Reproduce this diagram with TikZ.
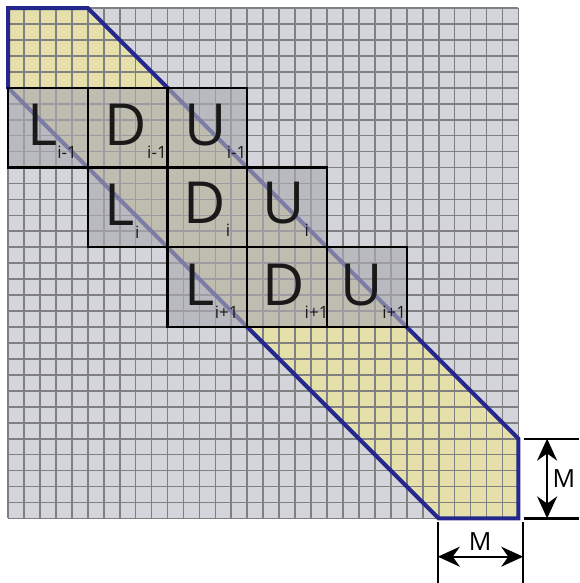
\documentclass[tikz,border=0pt]{standalone}
\usepackage{fontspec}
\setmainfont{Open Sans}
\usetikzlibrary{arrows.meta, positioning}

\definecolor{cellgray}{RGB}{212,213,218}
\definecolor{gridline}{RGB}{128,128,130}
\definecolor{bandyellow}{RGB}{229,223,170}
\definecolor{bandblue}{RGB}{36,40,140}
\definecolor{blockgray}{RGB}{172,172,178}

% letter with its index below right
\newcommand{\blk}[2]{{\fontsize{58}{58}\selectfont #1}\raisebox{-13pt}{\fontsize{17}{17}\selectfont #2}}

\tikzset{
  blockbox/.style={draw=black, line width=2.2pt, fill=blockgray, fill opacity=0.65,
    minimum size=79.75pt, inner sep=0pt, outer sep=0pt},
  blocklabel/.style={anchor=base west, inner sep=0pt, text=black!90},
  dimline/.style={line width=2.3pt},
  dimarrow/.style={line width=2.3pt, {Stealth[length=22pt,width=20pt]}-{Stealth[length=22pt,width=20pt]}},
}

\begin{document}
\begin{tikzpicture}[x=15.95pt, y=-15.95pt]
  \useasboundingbox (-0.5016,-0.5016) rectangle (35.80,36.05);

  % matrix cells
  \fill[cellgray] (0,0) rectangle (32,32);
  % band of width M
  \coordinate (b1) at (0,0);
  \coordinate (b2) at (5,0);
  \coordinate (b3) at (32,27);
  \coordinate (b4) at (32,32);
  \coordinate (b5) at (27,32);
  \coordinate (b6) at (0,5);
  \fill[bandyellow] (b1) -- (b2) -- (b3) -- (b4) -- (b5) -- (b6) -- cycle;
  \foreach \k in {0,...,32} {
    \draw[gridline, line width=1.7pt] (\k,0) -- (\k,32);
    \draw[gridline, line width=1.7pt] (0,\k) -- (32,\k);
  }
  \draw[bandblue, line width=4pt] (b1) -- (b2) -- (b3) -- (b4) -- (b5) -- (b6) -- cycle;

  % block rows
  \node[blockbox] (Lprev) at (2.5,7.5) {};
  \node[blockbox, right=0pt of Lprev] (Dprev) {};
  \node[blockbox, right=0pt of Dprev] (Uprev) {};
  \node[blockbox, below=0pt of Dprev] (Lcur) {};
  \node[blockbox, right=0pt of Lcur] (Dcur) {};
  \node[blockbox, right=0pt of Dcur] (Ucur) {};
  \node[blockbox, below=0pt of Dcur] (Lnext) {};
  \node[blockbox, right=0pt of Lnext] (Dnext) {};
  \node[blockbox, right=0pt of Dnext] (Unext) {};

  \node[blocklabel] (tLprev) at ([xshift=19pt, yshift=22pt]Lprev.south west) {\blk{L}{i-1}};
  \node[blocklabel] (tDprev) at ([xshift=17pt, yshift=22pt]Dprev.south west) {\blk{D}{i-1}};
  \node[blocklabel] (tUprev) at ([xshift=17pt, yshift=22pt]Uprev.south west) {\blk{U}{i-1}};
  \node[blocklabel] (tLcur) at ([xshift=17pt, yshift=22pt]Lcur.south west) {\blk{L}{i}};
  \node[blocklabel] (tDcur) at ([xshift=16pt, yshift=24pt]Dcur.south west) {\blk{D}{i}};
  \node[blocklabel] (tUcur) at ([xshift=15pt, yshift=24pt]Ucur.south west) {\blk{U}{i}};
  \node[blocklabel] (tLnext) at ([xshift=17pt, yshift=22pt]Lnext.south west) {\blk{L}{i+1}};
  \node[blocklabel] (tDnext) at ([xshift=15pt, yshift=22pt]Dnext.south west) {\blk{D}{i+1}};
  \node[blocklabel] (tUnext) at ([xshift=13pt, yshift=22pt]Unext.south west) {\blk{U}{i+1}};

  % size of M, vertical
  \coordinate (vt1) at (32.35,27);
  \coordinate (vt2) at (35.80,27);
  \coordinate (vb1) at (32.35,32);
  \coordinate (vb2) at (35.80,32);
  \draw[dimline] (vt1) -- (vt2);
  \draw[dimline] (vb1) -- (vb2);
  \coordinate (va) at (33.8,27);
  \coordinate (vb) at (33.8,32);
  \draw[dimarrow] (va) -- (vb);
  \node[font=\fontsize{25}{25}\selectfont] (mv) at (34.85,29.5) {M};

  % size of M, horizontal
  \coordinate (hl1) at (26.95,32.25);
  \coordinate (hl2) at (26.95,36.05);
  \coordinate (hr1) at (32.3,32.25);
  \coordinate (hr2) at (32.3,36.05);
  \draw[dimline] (hl1) -- (hl2);
  \draw[dimline] (hr1) -- (hr2);
  \coordinate (ha) at (26.95,34.4);
  \coordinate (hb) at (32.3,34.4);
  \draw[dimarrow] (ha) -- (hb);
  \node[font=\fontsize{25}{25}\selectfont] (mh) at (29.6,33.45) {M};
\end{tikzpicture}
\end{document}
